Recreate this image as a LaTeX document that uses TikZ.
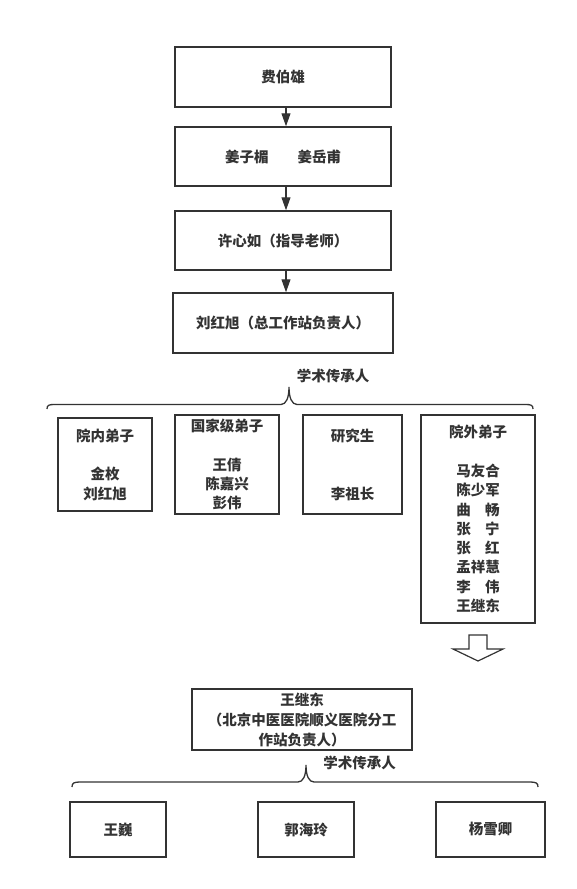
\documentclass[tikz,border=0pt]{standalone}
\usepackage{fontspec}
\setmainfont{Noto Sans CJK SC}
\usetikzlibrary{arrows.meta}
\definecolor{ink}{HTML}{333333}
\tikzset{
  box/.style={draw=ink, line width=1.5pt, text=ink, align=center, inner sep=0pt,
    font=\fontsize{14.5}{19.3}\selectfont\bfseries},
  flow/.style={draw=ink, line width=1.2pt, -{Triangle[length=13pt,width=9pt]}},
  bracket/.style={draw=ink, line width=1.3pt},
  tag/.style={text=ink, font=\fontsize{14.5}{16}\selectfont\bfseries}
}
\begin{document}
\begin{tikzpicture}[x=1pt,y=-1pt]
  \useasboundingbox (0,0) rectangle (576,889);
  % lineage chain
  \node[box, minimum width=216, minimum height=60] (fei) at (283,77) {费伯雄};
  \node[box, minimum width=216, minimum height=59] (jiang) at (283,156.5) {姜子楣\hspace{2em}姜岳甫};
  \node[box, minimum width=216, minimum height=59] (xu) at (283,240.5) {许心如（指导老师）};
  \node[box, minimum width=220, minimum height=60] (liu) at (283,323) {刘红旭（总工作站负责人）};
  \draw[flow] ([xshift=3pt]fei.south) -- ([xshift=3pt]jiang.north);
  \draw[flow] ([xshift=3pt]jiang.south) -- ([xshift=3pt]xu.north);
  \draw[flow] ([xshift=3pt]xu.south) -- ([xshift=3pt]liu.north);

  \node[tag] (heir1) at (333,376) {学术传承人};
  \draw[bracket] (47,409) .. controls (47,405) and (49,404.5) .. (55,404.5) -- (281,404.5)
    .. controls (286,404.5) and (289,398) .. (289,387)
    .. controls (289,398) and (292,404.5) .. (297,404.5) -- (525,404.5)
    .. controls (531,404.5) and (533,405) .. (533,409);

  % disciples
  \node[box, minimum width=94, minimum height=93] (neidi) at (105,464.5)
    {院内弟子\\ \\金枚\\刘红旭};
  \node[box, minimum width=104, minimum height=99] (guojia) at (227,464.5)
    {国家级弟子\\ \\王倩\\陈嘉兴\\彭伟};
  \node[box, minimum width=99, minimum height=99] (yanjiu) at (352.5,464.5)
    {研究生\\ \\ \\李祖长};
  \node[box, minimum width=114, minimum height=208] (waidi) at (478,519)
    {院外弟子\\ \\马友合\\陈少军\\曲\quad 畅\\张\quad 宁\\张\quad 红\\孟祥慧\\李\quad 伟\\王继东};

  \draw[ink, line width=1.2pt, fill=white] (469,635) -- (487,635) -- (487,649) -- (503,649)
    -- (478,661) -- (453,649) -- (469,649) -- cycle;

  % branch station
  \node[box, minimum width=220, minimum height=61, font=\fontsize{14.5}{20}\selectfont\bfseries]
    (wang) at (302,719.5) {王继东\\（北京中医医院顺义医院分工\\作站负责人）};
  \node[tag] (heir2) at (359.5,763) {学术传承人};
  \draw[bracket] (72,787) .. controls (72,783) and (74,782) .. (80,782) -- (298,782)
    .. controls (303,782) and (306,776) .. (306,765)
    .. controls (306,776) and (309,782) .. (314,782) -- (530,782)
    .. controls (536,782) and (538,783) .. (538,787);

  \node[box, minimum width=96, minimum height=55] (wangwei) at (118,829.5) {王巍};
  \node[box, minimum width=96, minimum height=55] (guo) at (306,829.5) {郭海玲};
  \node[box, minimum width=109, minimum height=55] (yang) at (490.5,829.5) {杨雪卿};
\end{tikzpicture}
\end{document}
